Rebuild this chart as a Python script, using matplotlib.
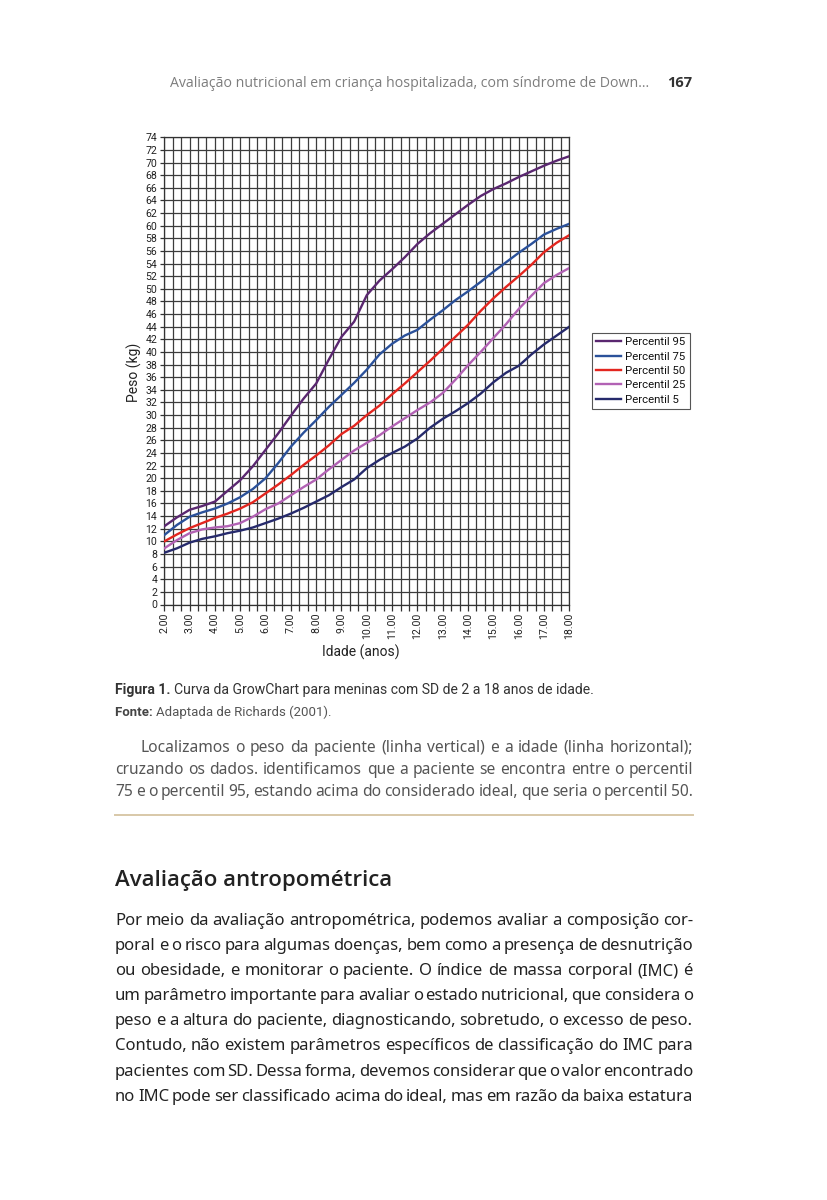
import numpy as np
import matplotlib
matplotlib.use("Agg")
import matplotlib.pyplot as plt

W, H = 827, 1200

# idade (anos), de 6 em 6 meses
idade = [2.0, 2.5, 3.0, 3.5, 4.0, 4.5, 5.0, 5.5, 6.0, 6.5, 7.0, 7.5, 8.0, 8.5, 9.0, 9.5, 10.0,
         10.5, 11.0, 11.5, 12.0, 12.5, 13.0, 13.5, 14.0, 14.5, 15.0, 15.5, 16.0, 16.5, 17.0, 17.5, 18.0]

p95 = [12.4, 13.8, 15.0, 15.6, 16.3, 18.0, 19.7, 21.9, 24.5, 27.1, 29.9, 32.6, 35.0, 38.8, 42.4, 44.8, 49.0,
       51.3, 53.1, 55.0, 57.1, 58.8, 60.3, 61.8, 63.3, 64.7, 65.8, 66.7, 67.7, 68.6, 69.5, 70.3, 71.0]
p75 = [11.0, 12.6, 13.9, 14.6, 15.2, 16.0, 17.0, 18.3, 20.0, 22.4, 25.0, 27.2, 29.2, 31.3, 33.2, 35.1, 37.2,
       39.6, 41.3, 42.6, 43.5, 45.1, 46.6, 48.2, 49.6, 51.1, 52.7, 54.2, 55.7, 57.1, 58.6, 59.5, 60.3]
p50 = [10.0, 11.1, 12.1, 12.9, 13.7, 14.4, 15.2, 16.2, 17.6, 19.0, 20.5, 22.1, 23.6, 25.2, 27.0, 28.3, 30.0,
       31.5, 33.3, 35.0, 36.8, 38.6, 40.5, 42.4, 44.3, 46.5, 48.5, 50.3, 52.0, 53.8, 55.8, 57.3, 58.5]
p25 = [8.9, 10.2, 11.3, 11.9, 12.2, 12.4, 12.9, 13.9, 15.1, 16.0, 17.3, 18.6, 19.8, 21.4, 22.9, 24.4, 25.6,
       26.8, 28.2, 29.5, 30.8, 32.0, 33.5, 35.6, 37.9, 40.0, 42.2, 44.4, 46.8, 48.9, 50.9, 52.2, 53.3]
p5 = [8.2, 8.9, 9.8, 10.4, 10.8, 11.3, 11.7, 12.2, 12.9, 13.6, 14.4, 15.3, 16.3, 17.3, 18.6, 19.8, 21.6,
      22.9, 24.0, 25.0, 26.3, 28.0, 29.4, 30.6, 31.9, 33.4, 35.2, 36.7, 37.8, 39.6, 41.2, 42.6, 44.0]

series = [("Percentil 95", p95, "#5a2770"),
          ("Percentil 75", p75, "#2b519a"),
          ("Percentil 50", p50, "#e3261f"),
          ("Percentil 25", p25, "#b262b4"),
          ("Percentil 5", p5, "#262a6c")]

xticks = list(range(2, 19))
xlabels = ["%.2f" % v for v in xticks]
yticks = list(range(0, 75, 2))

fig = plt.figure(figsize=(W / 100, H / 100), dpi=100)
fig.patch.set_facecolor("white")


def px(x, y):
    return x / W, 1 - y / H


# --- grafico ---
ax = fig.add_axes([164.3 / W, 1 - 604.5 / H, 405 / W, 467.2 / H])
cfont = "Roboto"
for lab, vals, col in series:
    ax.plot(idade, vals, color=col, lw=1.7, label=lab, zorder=3, solid_joinstyle="round")

ax.set_xlim(2, 18)
ax.set_ylim(0, 74)
ax.set_xticks(xticks)
ax.set_xticklabels(xlabels, rotation=90, fontsize=7.6, family=cfont, color="#222")
ax.set_xticks(np.arange(2, 18.01, 1 / 3), minor=True)
ax.set_yticks(yticks)
ax.set_yticklabels([str(v) for v in yticks], fontsize=7.6, family=cfont, color="#222")
ax.grid(True, which="both", color="#3c3c3c", lw=0.9, zorder=1)
ax.tick_params(axis="x", which="both", direction="out", length=4, width=0.9, color="#333", pad=2)
ax.tick_params(axis="y", which="major", direction="out", length=3, width=0.9, color="#333", pad=2)
for s in ax.spines.values():
    s.set_color("#333")
    s.set_linewidth(0.9)
ax.set_axisbelow(True)

fig.text(*px(134, 372), "Peso (kg)", rotation=90, ha="center", va="center",
         fontsize=10, family=cfont, color="#222")
fig.text(*px(361, 652), "Idade (anos)", ha="center", va="center",
         fontsize=10, family=cfont, color="#222")

leg = ax.legend(loc="upper left", bbox_to_anchor=px(586, 327), bbox_transform=fig.transFigure,
                prop={"family": cfont, "size": 8.2}, handlelength=2.2, handletextpad=0.3,
                labelspacing=0.38, borderpad=0.4, fancybox=False, framealpha=1)
leg.get_frame().set_edgecolor("#555")
leg.get_frame().set_linewidth(0.8)
for t in leg.get_texts():
    t.set_color("#111")

# --- texto da pagina ---
renderer = fig.canvas.get_renderer()


def width_of(s, **kw):
    t = fig.text(0, 0, s, **kw)
    w = t.get_window_extent(renderer).width
    t.remove()
    return w


def fit_parts(x0, x1, y, parts, size, **kw):
    # partes (texto, peso, cor) numa linha; a fonte e escalada para ocupar de x0 a x1
    tot = sum(width_of(p, fontsize=size, weight=wt, **kw) for p, wt, c in parts)
    size = size * (x1 - x0) / tot
    x = x0
    for p, wt, c in parts:
        fig.text(*px(x, y), p, ha="left", va="baseline", fontsize=size, weight=wt, color=c, **kw)
        x += width_of(p, fontsize=size, weight=wt, **kw)


def justify(y, line, x0, x1, **kw):
    words = line.split()
    widths = [width_of(w, **kw) for w in words]
    gap = (x1 - x0 - sum(widths)) / max(len(words) - 1, 1)
    x = x0
    for w, wd in zip(words, widths):
        fig.text(*px(x, y), w, ha="left", va="baseline", **kw)
        x += wd + gap


fit_parts(170, 652, 87, [("Avaliação nutricional em criança hospitalizada, com síndrome de Down...",
                          "normal", "#7d7d7d")], 9.5, family="Open Sans")
fig.text(*px(692, 87), "167", ha="right", va="baseline", fontsize=10.5, family="Open Sans",
         weight="bold", color="#333")

fit_parts(115, 594, 694, [("Figura 1. ", "bold", "#333"),
                          ("Curva da GrowChart para meninas com SD de 2 a 18 anos de idade.", "normal", "#333")],
          9, family="Roboto")
fit_parts(115, 330, 716, [("Fonte: ", "bold", "#444"),
                          ("Adaptada de Richards (2001).", "normal", "#555")],
          8.5, family="Roboto")

par1 = ["Localizamos o peso da paciente (linha vertical) e a idade (linha horizontal);",
        "cruzando os dados. identificamos que a paciente se encontra entre o percentil",
        "75 e o percentil 95, estando acima do considerado ideal, que seria o percentil 50."]
ys1 = [752, 774, 796]
for i, (ln, y) in enumerate(zip(par1, ys1)):
    justify(y, ln, 140 if i == 0 else 115, 693, fontsize=11.2, family="Noto Sans", color="#555")

fig.add_artist(plt.Line2D([115 / W, 693 / W], [1 - 815 / H, 1 - 815 / H], color="#d8c8a8", lw=1.4))

fit_parts(115, 393, 886, [("Avaliação antropométrica", "semibold", "#222")], 16, family="Open Sans")

par2 = ["Por meio da avaliação antropométrica, podemos avaliar a composição cor-",
        "poral e o risco para algumas doenças, bem como a presença de desnutrição",
        "ou obesidade, e monitorar o paciente. O índice de massa corporal (IMC) é",
        "um parâmetro importante para avaliar o estado nutricional, que considera o",
        "peso e a altura do paciente, diagnosticando, sobretudo, o excesso de peso.",
        "Contudo, não existem parâmetros específicos de classificação do IMC para",
        "pacientes com SD. Dessa forma, devemos considerar que o valor encontrado",
        "no IMC pode ser classificado acima do ideal, mas em razão da baixa estatura"]
ys2 = [925, 950, 975, 1000, 1025, 1050, 1076, 1101]
for ln, y in zip(par2, ys2):
    justify(y, ln, 115, 693, fontsize=12.0, family="Noto Sans", color="#222")

fig.savefig("out.png", dpi=100)
